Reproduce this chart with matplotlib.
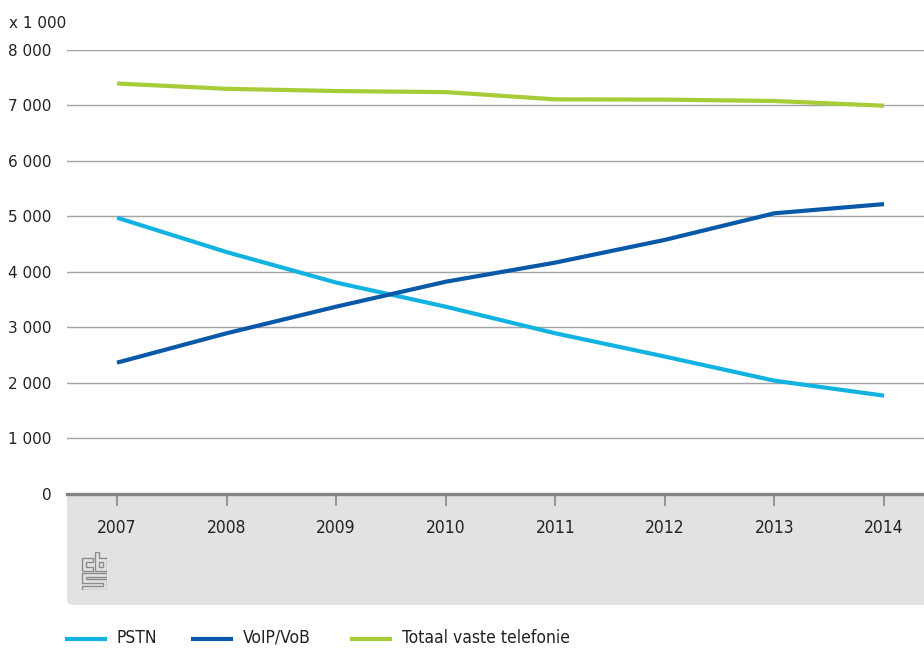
import matplotlib
matplotlib.use('Agg')
import matplotlib.pyplot as plt
from matplotlib.patches import FancyBboxPatch, Polygon, Rectangle
from matplotlib.lines import Line2D
from matplotlib.ticker import FuncFormatter

# Aansluitingen vaste telefonie (x 1 000)
years = [2007, 2008, 2009, 2010, 2011, 2012, 2013, 2014]
pstn = [4975, 4355, 3805, 3370, 2890, 2470, 2035, 1765]
voip = [2360, 2890, 3370, 3820, 4165, 4575, 5055, 5220]
totaal = [7395, 7300, 7260, 7240, 7110, 7105, 7080, 6995]

series_names = ['PSTN', 'VoIP/VoB', 'Totaal vaste telefonie']
series_colors = ['#12b3e0', '#0a59a9', '#a6cd37']
y_ticks = [0, 1000, 2000, 3000, 4000, 5000, 6000, 7000, 8000]

W, H = 924, 650
txt = '#222222'

fig = plt.figure(figsize=(W / 100, H / 100), dpi=100)


def fx(px):
    return px / W


def fy(py):
    return 1 - py / H


ax = fig.add_axes([fx(67), fy(493.5), fx(924 - 67), (493.5 - 50) / H])
ax.set_facecolor('white')

# grey footer panel under the x axis
panel = FancyBboxPatch((fx(67), fy(605)), fx(900), (605 - 470) / H,
                       boxstyle='round,pad=0,rounding_size=0.008',
                       transform=fig.transFigure, facecolor='#e1e2e4',
                       edgecolor='none', zorder=-5)
fig.patches.append(panel)

for yv in y_ticks[1:]:
    ax.axhline(yv, color='#a3a3a3', lw=1.0, zorder=1)

for vals, color in zip([pstn, voip, totaal], series_colors):
    ax.plot(years, vals, color=color, lw=3.0, solid_joinstyle='round',
            solid_capstyle='butt', zorder=3)

ax.axhline(0, color='#838383', lw=2.4, zorder=4, clip_on=False)

ax.set_xlim(2007 - 50 / 109.57, 2014 + 40 / 109.57)
ax.set_ylim(0, 8000)
for s in ax.spines.values():
    s.set_visible(False)

ax.set_yticks(y_ticks)
ax.yaxis.set_major_formatter(FuncFormatter(lambda v, p: f'{int(v):,}'.replace(',', ' ')))
ax.tick_params(axis='y', length=0, pad=11, labelsize=11, labelcolor=txt)

ax.set_xticks(years)
ax.set_xticklabels([str(y) for y in years], fontstretch='condensed')
ax.tick_params(axis='x', direction='out', length=8.5, width=1.3, color='#8e8e8e',
               pad=10, labelsize=12.5, labelcolor=txt)

fig.text(fx(9), fy(24), 'x 1 000', fontsize=11, color=txt,
         ha='left', va='center')

# small cbs logo drawn as outlines
logo = fig.add_axes([fx(81), fy(590), fx(26), 38 / H])
logo.set_xlim(-0.5, 25.5)
logo.set_ylim(38.5, -0.5)
logo.axis('off')
lc = '#8c8c8c'
lw_logo = 1.0
shapes = [
    [(11, 6), (0, 6), (0, 19), (11, 19), (11, 15), (4, 15), (4, 10), (11, 10)],
    [(13, 0), (17, 0), (17, 6), (25, 6), (25, 19), (13, 19)],
    [(0, 21), (25, 21), (25, 25), (4, 25), (4, 27.5), (25, 27.5), (25, 38),
     (0, 38), (0, 34), (21, 34), (21, 31.5), (0, 31.5)],
]
for pts in shapes:
    logo.add_patch(Polygon(pts, closed=True, fill=False, edgecolor=lc, lw=lw_logo))
logo.add_patch(Rectangle((17, 10), 4, 5, fill=False, edgecolor=lc, lw=lw_logo))

# legend
leg_x = [67, 193, 352]
for x0, name, color in zip(leg_x, series_names, series_colors):
    fig.add_artist(Line2D([fx(x0), fx(x0 + 38)], [fy(639), fy(639)],
                          transform=fig.transFigure, color=color, lw=3.0))
    fig.text(fx(x0 + 50), fy(638), name, fontsize=12.5, fontstretch='condensed',
             color=txt, ha='left', va='center')

fig.savefig('out.png', dpi=100)
